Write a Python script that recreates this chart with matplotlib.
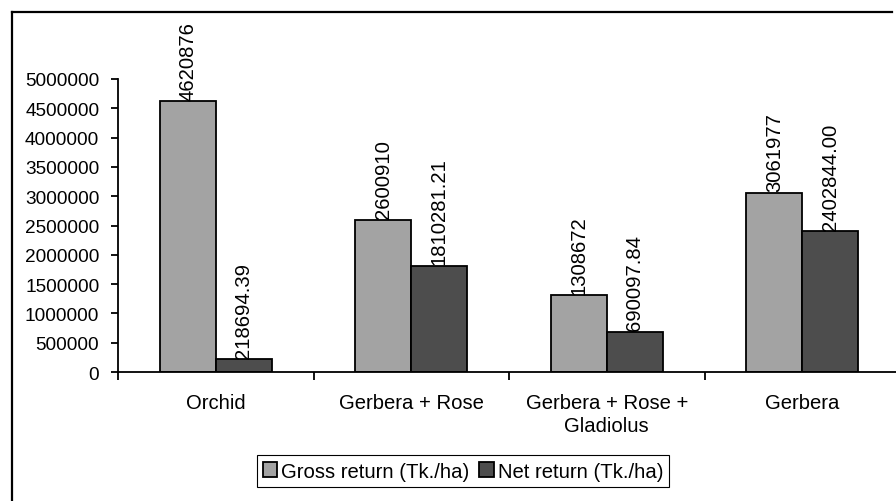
import matplotlib
matplotlib.use("Agg")
import matplotlib.pyplot as plt
import numpy as np
from matplotlib.lines import Line2D

categories = ["Orchid", "Gerbera + Rose", "Gerbera + Rose +\nGladiolus", "Gerbera"]
gross_return = [4620876, 2600910, 1308672, 3061977]
net_return = [218694.39, 1810281.21, 690097.84, 2402844.00]
gross_labels = [f"{v:.0f}" for v in gross_return]
net_labels = [f"{v:.2f}" for v in net_return]
yticks = np.arange(0, 5000001, 500000)

plt.rcParams["font.family"] = ["Liberation Sans", "DejaVu Sans"]
FS = 14.6
W, H = 896, 502

fig = plt.figure(figsize=(W / 100, H / 100), dpi=100, facecolor="white")
ax = fig.add_axes([118 / W, 1 - 373 / H, (900 - 118) / W, (373 - 80) / H])

x = np.arange(len(categories))
bw = 0.286
b1 = ax.bar(x - bw / 2, gross_return, bw, color="#a3a3a3", edgecolor="black",
            linewidth=1.3, label="Gross return (Tk./ha)")
b2 = ax.bar(x + bw / 2, net_return, bw, color="#4d4d4d", edgecolor="black",
            linewidth=1.3, label="Net return (Tk./ha)")

for bars, labels in ((b1, gross_labels), (b2, net_labels)):
    for r, lab in zip(bars, labels):
        ax.annotate(lab, (r.get_x() + r.get_width() / 2, r.get_height()),
                    xytext=(0, 1.2), textcoords="offset points", rotation=90,
                    ha="center", va="bottom", fontsize=FS, color="black",
                    annotation_clip=False)

ax.set_xlim(-0.5, len(categories) - 0.5)
ax.set_ylim(0, 5000000)
ax.set_yticks(yticks)
ax.set_yticklabels([f"{v:d}" for v in yticks], fontsize=13.7)
ax.tick_params(axis="y", length=5, width=1.3, pad=8.5)

ax.set_xticks(x)
ax.set_xticklabels(categories, fontsize=FS, linespacing=1.25)
ax.set_xticks(np.arange(-0.5, len(categories), 1), minor=True)
ax.tick_params(axis="x", which="major", length=0, pad=15)
ax.tick_params(axis="x", which="minor", length=6, width=1.3, direction="out")

for s in ("top", "right"):
    ax.spines[s].set_visible(False)
for s in ("left", "bottom"):
    ax.spines[s].set_linewidth(1.3)
ax.spines["bottom"].set_clip_on(False)

leg = fig.legend(handles=[b1, b2], loc="center", bbox_to_anchor=(463 / W, 1 - 472 / H),
                 ncol=2, fontsize=FS, frameon=True, fancybox=False, framealpha=1,
                 edgecolor="black", handlelength=0.7, handleheight=0.7,
                 handletextpad=0.2, columnspacing=0.5, borderpad=0.3, borderaxespad=0)
leg.get_frame().set_linewidth(0.8)

# outer chart-area border (right and bottom sides fall outside the picture)
top = 1 - 13 / H
fig.add_artist(Line2D([12 / W, 892 / W], [top, top], transform=fig.transFigure,
                      color="black", linewidth=1.6))
fig.add_artist(Line2D([12 / W, 12 / W], [top, 0], transform=fig.transFigure,
                      color="black", linewidth=1.6))

fig.savefig("out.png", dpi=100, facecolor="white")
